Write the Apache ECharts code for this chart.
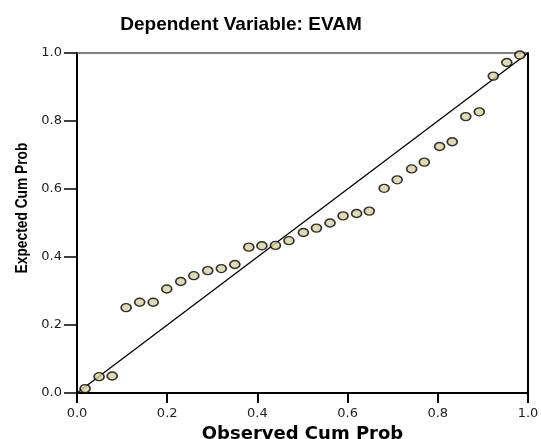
<!DOCTYPE html>
<html style="height: 100%">
<head>
<meta charset="UTF-8" />
<title>P-P Plot EVAM</title>
<style>
html, body { margin: 0; padding: 0; background: #ffffff; }
#chartBox { width: 541px; height: 439px; }
</style>
</head>
<body>
	<div id="chartBox"></div>
	<script src="https://cdn.jsdelivr.net/npm/echarts@6/dist/echarts.min.js"></script>
	<script>
		// 观测累积概率 / 期望累积概率
		var observedCum = [0.018, 0.049, 0.078, 0.109, 0.139, 0.169, 0.199, 0.230, 0.259, 0.290, 0.320,
			0.350, 0.381, 0.410, 0.440, 0.470, 0.502, 0.531, 0.561, 0.590, 0.620, 0.648,
			0.681, 0.710, 0.742, 0.770, 0.804, 0.832, 0.862, 0.892, 0.923, 0.953, 0.982];
		var expectedCum = [0.013, 0.048, 0.050, 0.251, 0.267, 0.267, 0.306, 0.328, 0.345, 0.360, 0.366,
			0.378, 0.429, 0.433, 0.434, 0.448, 0.472, 0.485, 0.500, 0.521, 0.528, 0.535,
			0.602, 0.627, 0.659, 0.679, 0.725, 0.739, 0.813, 0.827, 0.932, 0.972, 0.994];
		var diagonal = [[0, 0], [1, 1]];
		var tickLabels = ['0.0', '0.2', '0.4', '0.6', '0.8', '1.0'];

		var title_text = 'Dependent Variable: EVAM';
		var xName = 'Observed Cum Prob';
		var yName = 'Expected Cum Prob';
		var fontName = 'Liberation Sans';
		var wideFont = 'DejaVu Sans';

		var points = [];
		for (var i = 0; i < observedCum.length; i++) {
			points.push([observedCum[i], expectedCum[i]]);
		}
		var tickFmt = function(v) {
			return tickLabels[Math.round(v / 0.2)];
		};

		var myChart = echarts.init(document.getElementById('chartBox'), null, { renderer: 'canvas' });
		var option = {
			backgroundColor: '#ffffff',
			animation: false,
			title: {
				text: title_text,
				left: 236,
				top: 10,
				textAlign: 'center',
				textStyle: { color: '#000', fontFamily: fontName, fontWeight: 'bold', fontSize: 19 }
			},
			// 纵轴标题：竖排且略压缩
			graphic: [{
				type: 'text',
				x: 22, y: 208,
				rotation: Math.PI / 2,
				scaleX: 0.81,
				style: {
					text: yName,
					fill: '#000',
					font: 'bold 17px "Liberation Sans"',
					align: 'center',
					verticalAlign: 'middle'
				}
			}],
			grid: { left: 77, right: 13, top: 53, bottom: 46, containLabel: false, outerBoundsMode: 'none' },
			xAxis: [{
				type: 'value',
				min: 0, max: 1, interval: 0.2,
				name: xName,
				nameLocation: 'middle',
				nameGap: 30,
				nameTextStyle: { color: '#000', fontFamily: wideFont, fontWeight: 'bold', fontSize: 18 },
				axisLine: { show: true, onZero: false, lineStyle: { color: '#000', width: 2 } },
				axisTick: { show: true, length: 10, lineStyle: { color: '#000', width: 2 } },
				axisLabel: { color: '#222', fontFamily: wideFont, fontSize: 13, margin: 14, formatter: tickFmt },
				splitLine: { show: false }
			}, {
				type: 'value', position: 'top',
				min: 0, max: 1,
				axisLine: { show: true, onZero: false, lineStyle: { color: '#555', width: 1.5 } },
				axisTick: { show: false }, axisLabel: { show: false }, splitLine: { show: false }
			}],
			yAxis: [{
				type: 'value',
				min: 0, max: 1, interval: 0.2,
				axisLine: { show: true, onZero: false, lineStyle: { color: '#000', width: 2 } },
				axisTick: { show: true, length: 13, lineStyle: { color: '#000', width: 1.5 } },
				axisLabel: { color: '#222', fontFamily: wideFont, fontSize: 13, margin: 15, formatter: tickFmt },
				splitLine: { show: false }
			}, {
				type: 'value', position: 'right',
				min: 0, max: 1,
				axisLine: { show: true, onZero: false, lineStyle: { color: '#000', width: 2 } },
				axisTick: { show: false }, axisLabel: { show: false }, splitLine: { show: false }
			}],
			series: [{
				type: 'line',
				data: diagonal,
				symbol: 'none',
				lineStyle: { color: '#000', width: 1.3 },
				z: 2
			}, {
				type: 'scatter',
				data: points,
				symbol: 'circle',
				symbolSize: [10, 8],
				itemStyle: { color: '#d8cf9f', borderColor: '#000', borderWidth: 1.5 },
				z: 3
			}]
		};
		myChart.setOption(option);
	</script>
</body>
</html>
